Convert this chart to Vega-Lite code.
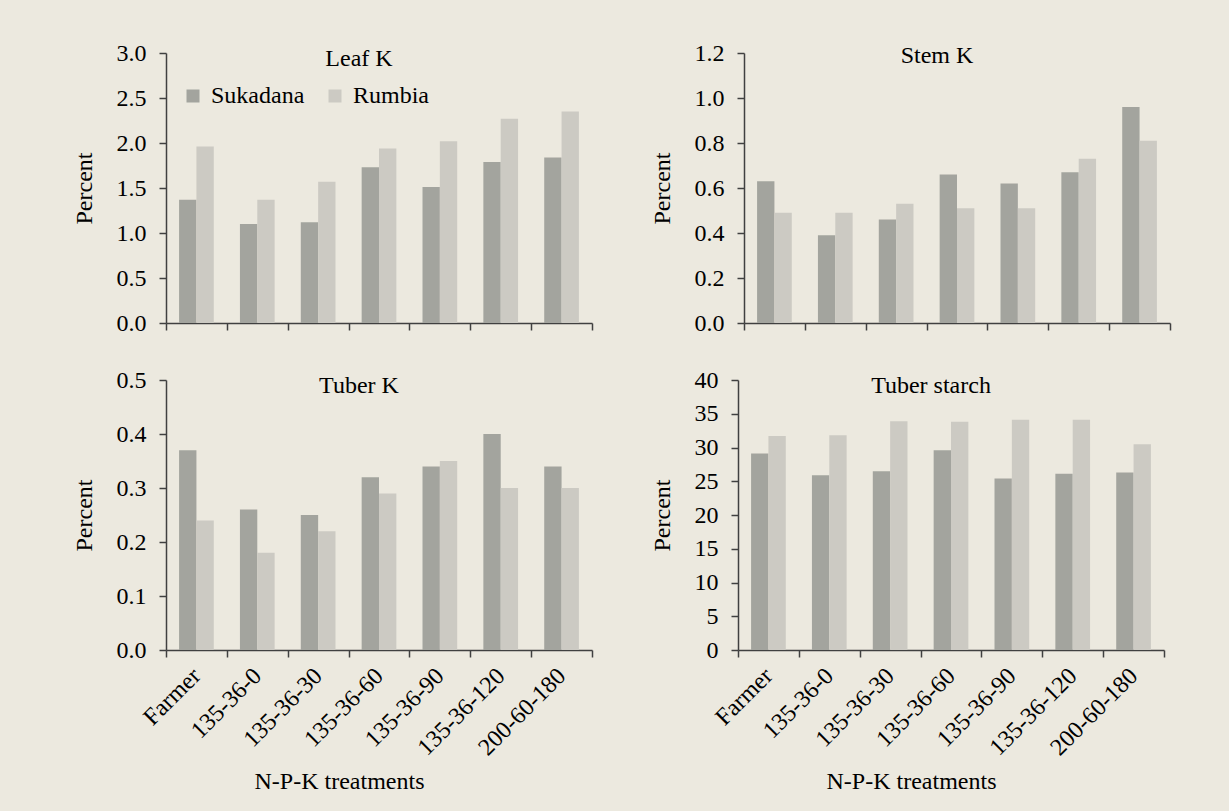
{
  "$schema": "https://vega.github.io/schema/vega-lite/v6.json",
  "background": "#ECE9DF",
  "padding": {"left": 72, "top": 41, "right": 70, "bottom": 30},
  "datasets": {
    "d": [
      {"panel": "Leaf K", "treatment": "Farmer", "site": "Sukadana", "value": 1.37},
      {"panel": "Leaf K", "treatment": "135-36-0", "site": "Sukadana", "value": 1.10},
      {"panel": "Leaf K", "treatment": "135-36-30", "site": "Sukadana", "value": 1.12},
      {"panel": "Leaf K", "treatment": "135-36-60", "site": "Sukadana", "value": 1.73},
      {"panel": "Leaf K", "treatment": "135-36-90", "site": "Sukadana", "value": 1.51},
      {"panel": "Leaf K", "treatment": "135-36-120", "site": "Sukadana", "value": 1.79},
      {"panel": "Leaf K", "treatment": "200-60-180", "site": "Sukadana", "value": 1.84},
      {"panel": "Leaf K", "treatment": "Farmer", "site": "Rumbia", "value": 1.96},
      {"panel": "Leaf K", "treatment": "135-36-0", "site": "Rumbia", "value": 1.37},
      {"panel": "Leaf K", "treatment": "135-36-30", "site": "Rumbia", "value": 1.57},
      {"panel": "Leaf K", "treatment": "135-36-60", "site": "Rumbia", "value": 1.94},
      {"panel": "Leaf K", "treatment": "135-36-90", "site": "Rumbia", "value": 2.02},
      {"panel": "Leaf K", "treatment": "135-36-120", "site": "Rumbia", "value": 2.27},
      {"panel": "Leaf K", "treatment": "200-60-180", "site": "Rumbia", "value": 2.35},
      {"panel": "Stem K", "treatment": "Farmer", "site": "Sukadana", "value": 0.63},
      {"panel": "Stem K", "treatment": "135-36-0", "site": "Sukadana", "value": 0.39},
      {"panel": "Stem K", "treatment": "135-36-30", "site": "Sukadana", "value": 0.46},
      {"panel": "Stem K", "treatment": "135-36-60", "site": "Sukadana", "value": 0.66},
      {"panel": "Stem K", "treatment": "135-36-90", "site": "Sukadana", "value": 0.62},
      {"panel": "Stem K", "treatment": "135-36-120", "site": "Sukadana", "value": 0.67},
      {"panel": "Stem K", "treatment": "200-60-180", "site": "Sukadana", "value": 0.96},
      {"panel": "Stem K", "treatment": "Farmer", "site": "Rumbia", "value": 0.49},
      {"panel": "Stem K", "treatment": "135-36-0", "site": "Rumbia", "value": 0.49},
      {"panel": "Stem K", "treatment": "135-36-30", "site": "Rumbia", "value": 0.53},
      {"panel": "Stem K", "treatment": "135-36-60", "site": "Rumbia", "value": 0.51},
      {"panel": "Stem K", "treatment": "135-36-90", "site": "Rumbia", "value": 0.51},
      {"panel": "Stem K", "treatment": "135-36-120", "site": "Rumbia", "value": 0.73},
      {"panel": "Stem K", "treatment": "200-60-180", "site": "Rumbia", "value": 0.81},
      {"panel": "Tuber K", "treatment": "Farmer", "site": "Sukadana", "value": 0.37},
      {"panel": "Tuber K", "treatment": "135-36-0", "site": "Sukadana", "value": 0.26},
      {"panel": "Tuber K", "treatment": "135-36-30", "site": "Sukadana", "value": 0.25},
      {"panel": "Tuber K", "treatment": "135-36-60", "site": "Sukadana", "value": 0.32},
      {"panel": "Tuber K", "treatment": "135-36-90", "site": "Sukadana", "value": 0.34},
      {"panel": "Tuber K", "treatment": "135-36-120", "site": "Sukadana", "value": 0.40},
      {"panel": "Tuber K", "treatment": "200-60-180", "site": "Sukadana", "value": 0.34},
      {"panel": "Tuber K", "treatment": "Farmer", "site": "Rumbia", "value": 0.24},
      {"panel": "Tuber K", "treatment": "135-36-0", "site": "Rumbia", "value": 0.18},
      {"panel": "Tuber K", "treatment": "135-36-30", "site": "Rumbia", "value": 0.22},
      {"panel": "Tuber K", "treatment": "135-36-60", "site": "Rumbia", "value": 0.29},
      {"panel": "Tuber K", "treatment": "135-36-90", "site": "Rumbia", "value": 0.35},
      {"panel": "Tuber K", "treatment": "135-36-120", "site": "Rumbia", "value": 0.30},
      {"panel": "Tuber K", "treatment": "200-60-180", "site": "Rumbia", "value": 0.30},
      {"panel": "Tuber starch", "treatment": "Farmer", "site": "Sukadana", "value": 29.1},
      {"panel": "Tuber starch", "treatment": "135-36-0", "site": "Sukadana", "value": 25.9},
      {"panel": "Tuber starch", "treatment": "135-36-30", "site": "Sukadana", "value": 26.5},
      {"panel": "Tuber starch", "treatment": "135-36-60", "site": "Sukadana", "value": 29.6},
      {"panel": "Tuber starch", "treatment": "135-36-90", "site": "Sukadana", "value": 25.4},
      {"panel": "Tuber starch", "treatment": "135-36-120", "site": "Sukadana", "value": 26.1},
      {"panel": "Tuber starch", "treatment": "200-60-180", "site": "Sukadana", "value": 26.3},
      {"panel": "Tuber starch", "treatment": "Farmer", "site": "Rumbia", "value": 31.7},
      {"panel": "Tuber starch", "treatment": "135-36-0", "site": "Rumbia", "value": 31.8},
      {"panel": "Tuber starch", "treatment": "135-36-30", "site": "Rumbia", "value": 33.9},
      {"panel": "Tuber starch", "treatment": "135-36-60", "site": "Rumbia", "value": 33.8},
      {"panel": "Tuber starch", "treatment": "135-36-90", "site": "Rumbia", "value": 34.1},
      {"panel": "Tuber starch", "treatment": "135-36-120", "site": "Rumbia", "value": 34.1},
      {"panel": "Tuber starch", "treatment": "200-60-180", "site": "Rumbia", "value": 30.5}
    ]
  },
  "data": {"name": "d"},
  "resolve": {"legend": {"color": "independent"}, "scale": {"y": "independent"}},
  "spacing": 33,
  "vconcat": [
    {
      "hconcat": [
        {
          "width": 426, "height": 270,
          "title": {"text": "Leaf K", "dx": -20, "offset": -49, "baseline": "alphabetic"},
          "transform": [{"filter": "datum.panel === 'Leaf K'"}],
          "mark": {"type": "bar"},
          "encoding": {
            "x": {"field": "treatment", "type": "nominal", "sort": ["Farmer","135-36-0","135-36-30","135-36-60","135-36-90","135-36-120","200-60-180"], "scale": {"paddingInner": 0, "paddingOuter": 0}, "axis": {"labels": false, "title": null}},
            "xOffset": {"field": "site", "type": "nominal", "sort": ["Sukadana","Rumbia"], "scale": {"paddingInner": 0, "paddingOuter": 0.754}},
            "y": {"field": "value", "type": "quantitative", "scale": {"domain": [0, 3]}, "axis": {"values": [0,0.5,1,1.5,2,2.5,3], "format": ".1f", "title": "Percent"}},
            "color": {"field": "site", "type": "nominal", "sort": ["Sukadana","Rumbia"], "scale": {"domain": ["Sukadana","Rumbia"], "range": ["#A3A49E","#CCCAC3"]},
              "legend": {"orient": "none", "legendX": 15, "legendY": 31, "direction": "horizontal", "title": null, "symbolType": "square", "symbolSize": 169, "symbolStrokeWidth": 0, "labelFontSize": 24, "labelColor": "black", "columnPadding": 18, "labelOffset": 6, "padding": 0}}
          }
        },
        {
          "width": 426, "height": 270,
          "title": {"text": "Stem K", "dx": -20, "offset": -46, "baseline": "alphabetic"},
          "transform": [{"filter": "datum.panel === 'Stem K'"}],
          "mark": {"type": "bar"},
          "encoding": {
            "x": {"field": "treatment", "type": "nominal", "sort": ["Farmer","135-36-0","135-36-30","135-36-60","135-36-90","135-36-120","200-60-180"], "scale": {"paddingInner": 0, "paddingOuter": 0}, "axis": {"labels": false, "title": null}},
            "xOffset": {"field": "site", "type": "nominal", "sort": ["Sukadana","Rumbia"], "scale": {"paddingInner": 0, "paddingOuter": 0.754}},
            "y": {"field": "value", "type": "quantitative", "scale": {"domain": [0, 1.2]}, "axis": {"values": [0,0.2,0.4,0.6,0.8,1,1.2], "format": ".1f", "title": "Percent"}},
            "color": {"field": "site", "type": "nominal", "scale": {"domain": ["Sukadana","Rumbia"], "range": ["#A3A49E","#CCCAC3"]}, "legend": null}
          }
        }
      ]
    },
    {
      "hconcat": [
        {
          "width": 426, "height": 270,
          "title": {"text": "Tuber K", "dx": -20, "offset": -49, "baseline": "alphabetic"},
          "transform": [{"filter": "datum.panel === 'Tuber K'"}],
          "mark": {"type": "bar"},
          "encoding": {
            "x": {"field": "treatment", "type": "nominal", "sort": ["Farmer","135-36-0","135-36-30","135-36-60","135-36-90","135-36-120","200-60-180"], "scale": {"paddingInner": 0, "paddingOuter": 0}, "axis": {"labelAngle": -45, "labelAlign": "right", "labelBaseline": "middle", "labelPadding": 15, "title": "N-P-K treatments", "titleX": 173, "titlePadding": 10}},
            "xOffset": {"field": "site", "type": "nominal", "sort": ["Sukadana","Rumbia"], "scale": {"paddingInner": 0, "paddingOuter": 0.754}},
            "y": {"field": "value", "type": "quantitative", "scale": {"domain": [0, 0.5]}, "axis": {"values": [0,0.1,0.2,0.3,0.4,0.5], "format": ".1f", "title": "Percent"}},
            "color": {"field": "site", "type": "nominal", "scale": {"domain": ["Sukadana","Rumbia"], "range": ["#A3A49E","#CCCAC3"]}, "legend": null}
          }
        },
        {
          "width": 426, "height": 270,
          "title": {"text": "Tuber starch", "dx": -20, "offset": -49, "baseline": "alphabetic"},
          "transform": [{"filter": "datum.panel === 'Tuber starch'"}],
          "mark": {"type": "bar"},
          "encoding": {
            "x": {"field": "treatment", "type": "nominal", "sort": ["Farmer","135-36-0","135-36-30","135-36-60","135-36-90","135-36-120","200-60-180"], "scale": {"paddingInner": 0, "paddingOuter": 0}, "axis": {"labelAngle": -45, "labelAlign": "right", "labelBaseline": "middle", "labelPadding": 15, "title": "N-P-K treatments", "titleX": 173, "titlePadding": 10}},
            "xOffset": {"field": "site", "type": "nominal", "sort": ["Sukadana","Rumbia"], "scale": {"paddingInner": 0, "paddingOuter": 0.754}},
            "y": {"field": "value", "type": "quantitative", "scale": {"domain": [0, 40]}, "axis": {"values": [0,5,10,15,20,25,30,35,40], "format": "d", "title": "Percent"}},
            "color": {"field": "site", "type": "nominal", "scale": {"domain": ["Sukadana","Rumbia"], "range": ["#A3A49E","#CCCAC3"]}, "legend": null}
          }
        }
      ]
    }
  ],
  "config": {
    "font": "Liberation Serif",
    "view": {"stroke": null},
    "concat": {"spacing": 57},
    "title": {"fontSize": 24, "fontWeight": "normal", "color": "black", "anchor": "middle", "font": "Liberation Serif"},
    "axis": {"labelFontSize": 24, "titleFontSize": 24, "labelColor": "black", "titleColor": "black", "titleFontWeight": "normal", "grid": false, "domainColor": "#404040", "tickColor": "#404040", "domainWidth": 1.5, "tickWidth": 1.5, "tickSize": 7, "labelPadding": 13, "titlePadding": 20},
    "axisX": {"tickBand": "extent"},
    "legend": {"labelFont": "Liberation Serif"}
  }
}
